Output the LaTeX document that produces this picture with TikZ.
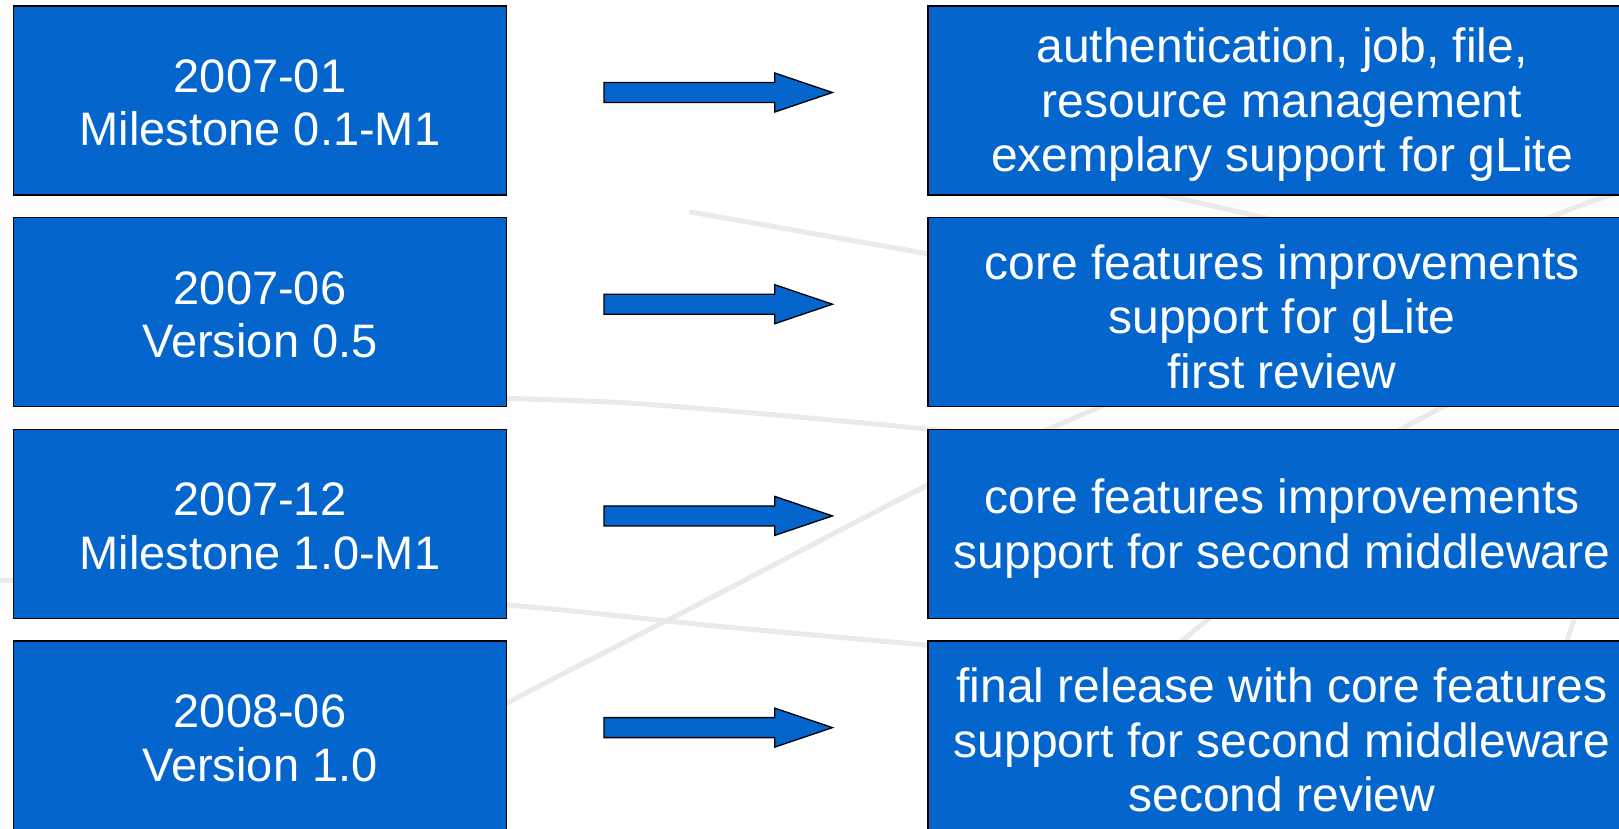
\documentclass[tikz,border=0pt]{standalone}
\usepackage{fontspec}
\setmainfont{Liberation Sans}
\usetikzlibrary{calc}
\definecolor{boxblue}{HTML}{0466CC}
\definecolor{bgline}{HTML}{EAEAEA}
\begin{document}
\begin{tikzpicture}[x=1pt,y=-1pt,
  box/.style={draw=black, line width=1.5pt, fill=boxblue, inner sep=0pt},
  lbox/.style={box, minimum width=493pt, minimum height=189pt},
  rbox/.style={box, minimum width=708pt, minimum height=189pt},
  ltxt/.style={text=white, align=center, font=\fontsize{47}{53.5}\selectfont, inner sep=0pt},
  rtxt/.style={text=white, align=center, font=\fontsize{48}{54.5}\selectfont, inner sep=0pt},
  blockarrow/.style={draw=black, line width=1.3pt, fill=boxblue, line join=miter},
  bg/.style={draw=bgline, line width=5pt, line cap=round}
]
\clip (0,0) rectangle (1619,828);
\fill[white] (0,0) rectangle (1619,828);

% decorative background lines
\draw[bg] (691,212) -- (980,263);
\draw[bg] (1130,187) -- (1300,226);
\draw[bg] plot[smooth] coordinates {(470,396) (506.7,398.3) (623,402.7) (756.7,413.3) (960,432)};
\draw[bg] plot[smooth] coordinates {(-5,580) (250,590) (506.7,605) (723,626.7) (960,648)};
\draw[bg] plot[smooth] coordinates {(470,730) (506.7,703.3) (706.7,600) (928,485) (1074,418) (1551,217) (1630,192)};
\draw[bg] (1165,655) -- (1225,605);
\draw[bg] (1390,435) -- (1450,403);
\draw[bg] (1564,650) -- (1577,610);

% left boxes
\node[lbox] (L1) at (260,100.5) {};
\node[lbox] (L2) at (260,312.2) {};
\node[lbox] (L3) at (260,523.9) {};
\node[lbox] (L4) at (260,735.6) {};
\node[ltxt] (L1t) at ($(L1.center)+(0,2.5)$) {2007-01\\Milestone 0.1-M1};
\node[ltxt] (L2t) at ($(L2.center)+(0,2.5)$) {2007-06\\Version 0.5};
\node[ltxt] (L3t) at ($(L3.center)+(0,2.5)$) {2007-12\\Milestone 1.0-M1};
\node[ltxt] (L4t) at ($(L4.center)+(0,2.5)$) {2008-06\\Version 1.0};

% right boxes
\node[rbox] (R1) at (1282,100.5) {};
\node[rbox] (R2) at (1282,312.2) {};
\node[rbox] (R3) at (1282,523.9) {};
\node[rbox] (R4) at (1282,735.6) {};
\node[rtxt] (R1t) at ($(R1.center)+(0,4.5)$) {authentication, job, file,\\resource management\\exemplary support for gLite};
\node[rtxt] (R2t) at ($(R2.center)+(0,4.5)$) {core features improvements\\support for gLite\\first review};
\node[rtxt] (R3t) at ($(R3.center)+(0,4.5)$) {core features improvements\\support for second middleware};
\node[rtxt] (R4t) at ($(R4.center)+(0,4.5)$) {final release with core features\\support for second middleware\\second review};

% block arrows
\foreach \i in {1,2,3,4}{
  \coordinate (A\i) at ($(L\i.east)!0.5!(R\i.west)+(1,-8)$);
  \draw[blockarrow, shift={(A\i)}] (-114.2,-10) -- (56.5,-10) -- (56.5,-19.5) -- (114.2,0)
    -- (56.5,19.5) -- (56.5,10) -- (-114.2,10) -- cycle;
}
\end{tikzpicture}
\end{document}
